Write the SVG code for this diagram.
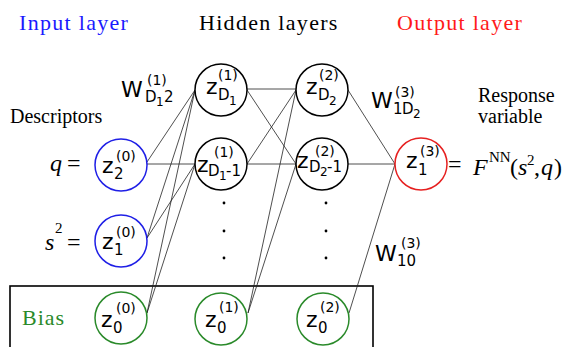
<svg xmlns="http://www.w3.org/2000/svg" width="565" height="347" viewBox="0 0 565 347">
<style>
.hdr{font-family:"Liberation Serif",serif;font-size:22px;letter-spacing:1.3px}
.ser{font-family:"Liberation Serif",serif;font-size:20px;fill:#000}
.it{font-family:"Liberation Serif",serif;font-style:italic;font-size:24px;fill:#000}
.rm{font-family:"Liberation Serif",serif;font-size:24px;fill:#000}
.sm{font-family:"Liberation Serif",serif;font-size:15px;fill:#000}
.sans{font-family:"DejaVu Sans",sans-serif;fill:#000}
.z{font-size:22px}
.s{font-size:15px}
.ss{font-size:12px}
.p{font-size:14px}
.w{font-size:22px}
.node{fill:#fff;stroke-width:1.5}
.blk{stroke:#000}
.blu{stroke:#1f1fe6}
.grn{stroke:#2a8a2a}
.red{stroke:#e62020}
.edge line{stroke:#222;stroke-width:0.8}
.dot{fill:#000}
</style>
<text class="hdr" x="19" y="30" fill="#1a1aff">Input layer</text>
<text class="hdr" x="199" y="30" fill="#000">Hidden layers</text>
<text class="hdr" x="397" y="30" fill="#ff1a1a">Output layer</text>
<text class="ser" x="10" y="123">Descriptors</text>
<text class="ser" x="478" y="102">Response</text>
<text class="ser" x="478" y="123">variable</text>
<rect x="10" y="286" width="363" height="80" fill="none" stroke="#000" stroke-width="1.6"/>
<text x="22" y="325" font-family="Liberation Serif,serif" font-size="22" letter-spacing="1" fill="#2a8a2a">Bias</text>
<g id="connectors" class="edge">
<line x1="147" y1="162" x2="195" y2="90"/>
<line x1="147" y1="164" x2="195" y2="164"/>
<line x1="147" y1="238" x2="195" y2="90"/>
<line x1="147" y1="238" x2="195" y2="164"/>
<line x1="147" y1="313" x2="195" y2="90"/>
<line x1="147" y1="313" x2="195" y2="164"/>
<line x1="247" y1="89" x2="296" y2="89"/>
<line x1="247" y1="90" x2="296" y2="164"/>
<line x1="247" y1="164" x2="296" y2="90"/>
<line x1="247" y1="164" x2="296" y2="164"/>
<line x1="248" y1="313" x2="296" y2="90"/>
<line x1="248" y1="313" x2="296" y2="164"/>
<line x1="348" y1="90" x2="395" y2="164"/>
<line x1="348" y1="164" x2="395" y2="164"/>
<line x1="349" y1="313" x2="395" y2="164"/>
</g>
<g id="in2"><circle class="node blu" cx="121" cy="165" r="26"/>
<text class="sans z" x="102" y="173">z</text><text class="sans s" x="114" y="179">2</text><text class="sans p" x="116" y="161">(0)</text></g>
<g id="in1"><circle class="node blu" cx="121" cy="241" r="26"/>
<text class="sans z" x="102" y="249">z</text><text class="sans s" x="114" y="255">1</text><text class="sans p" x="116" y="237">(0)</text></g>
<g id="in0"><circle class="node grn" cx="121" cy="318" r="26"/>
<text class="sans z" x="101" y="327">z</text><text class="sans s" x="113" y="333">0</text><text class="sans p" x="116" y="313">(0)</text></g>
<g id="h1a"><circle class="node blk" cx="221" cy="90" r="26"/>
<text class="sans z" x="206" y="94">z</text><text class="sans s" x="218" y="100">D</text><text class="sans ss" x="229" y="105">1</text><text class="sans p" x="218" y="80">(1)</text></g>
<g id="h1b"><circle class="node blk" cx="221" cy="164" r="26"/>
<text class="sans z" x="197" y="172">z</text><text class="sans s" x="208" y="176">D</text><text class="sans ss" x="219" y="180">1</text><text class="sans s" x="226" y="176">-1</text><text class="sans p" x="214" y="157">(1)</text></g>
<g id="h10"><circle class="node grn" cx="221" cy="319" r="26"/>
<text class="sans z" x="205" y="327">z</text><text class="sans s" x="217" y="333">0</text><text class="sans p" x="219" y="312">(1)</text></g>
<g id="h2a"><circle class="node blk" cx="322" cy="90" r="26"/>
<text class="sans z" x="306" y="94">z</text><text class="sans s" x="318" y="100">D</text><text class="sans ss" x="329" y="105">2</text><text class="sans p" x="319" y="80">(2)</text></g>
<g id="h2b"><circle class="node blk" cx="322" cy="164" r="26"/>
<text class="sans z" x="297" y="168">z</text><text class="sans s" x="309" y="172">D</text><text class="sans ss" x="320" y="176">2</text><text class="sans s" x="327" y="172">-1</text><text class="sans p" x="315" y="156">(2)</text></g>
<g id="h20"><circle class="node grn" cx="323" cy="319" r="26"/>
<text class="sans z" x="306" y="327">z</text><text class="sans s" x="318" y="333">0</text><text class="sans p" x="320" y="312">(2)</text></g>
<g id="out"><circle class="node red" cx="421" cy="164" r="26"/>
<text class="sans z" x="406" y="168">z</text><text class="sans s" x="418" y="175">1</text><text class="sans p" x="420" y="156">(3)</text></g>
<g id="dots">
<circle class="dot" cx="224" cy="203" r="1.4"/><circle class="dot" cx="224" cy="231" r="1.4"/><circle class="dot" cx="224" cy="258" r="1.4"/>
<circle class="dot" cx="326" cy="203" r="1.4"/><circle class="dot" cx="326" cy="231" r="1.4"/><circle class="dot" cx="326" cy="258" r="1.4"/>
</g>
<g id="weights">
<text class="sans w" x="121" y="97">W</text><text class="sans s" x="145" y="102">D</text><text class="sans ss" x="156" y="106">1</text><text class="sans s" x="164" y="102">2</text><text class="sans p" x="147" y="85">(1)</text>
<text class="sans w" x="371" y="108">W</text><text class="sans s" x="393" y="114">1</text><text class="sans s" x="402" y="114">D</text><text class="sans ss" x="413" y="118">2</text><text class="sans p" x="395" y="97">(3)</text>
<text class="sans w" x="375" y="261">W</text><text class="sans s" x="397" y="266">10</text><text class="sans p" x="401" y="248">(3)</text>
</g>
<g id="eqs">
<text class="it" x="50" y="171">q</text><text class="rm" x="67" y="171">=</text>
<text class="it" x="45" y="250">s</text><text class="sm" x="55" y="233">2</text><text class="rm" x="67" y="250">=</text>
<text class="rm" x="448" y="172">=</text>
<text class="it" x="473" y="175">F</text><text class="sm" x="489" y="162">NN</text>
<text class="rm" x="510" y="175">(</text><text class="it" x="518" y="175">s</text><text class="sm" x="527" y="165">2</text><text class="rm" x="534" y="175">,</text><text class="it" x="541" y="175">q</text><text class="rm" x="554" y="175">)</text>
</g>
</svg>
